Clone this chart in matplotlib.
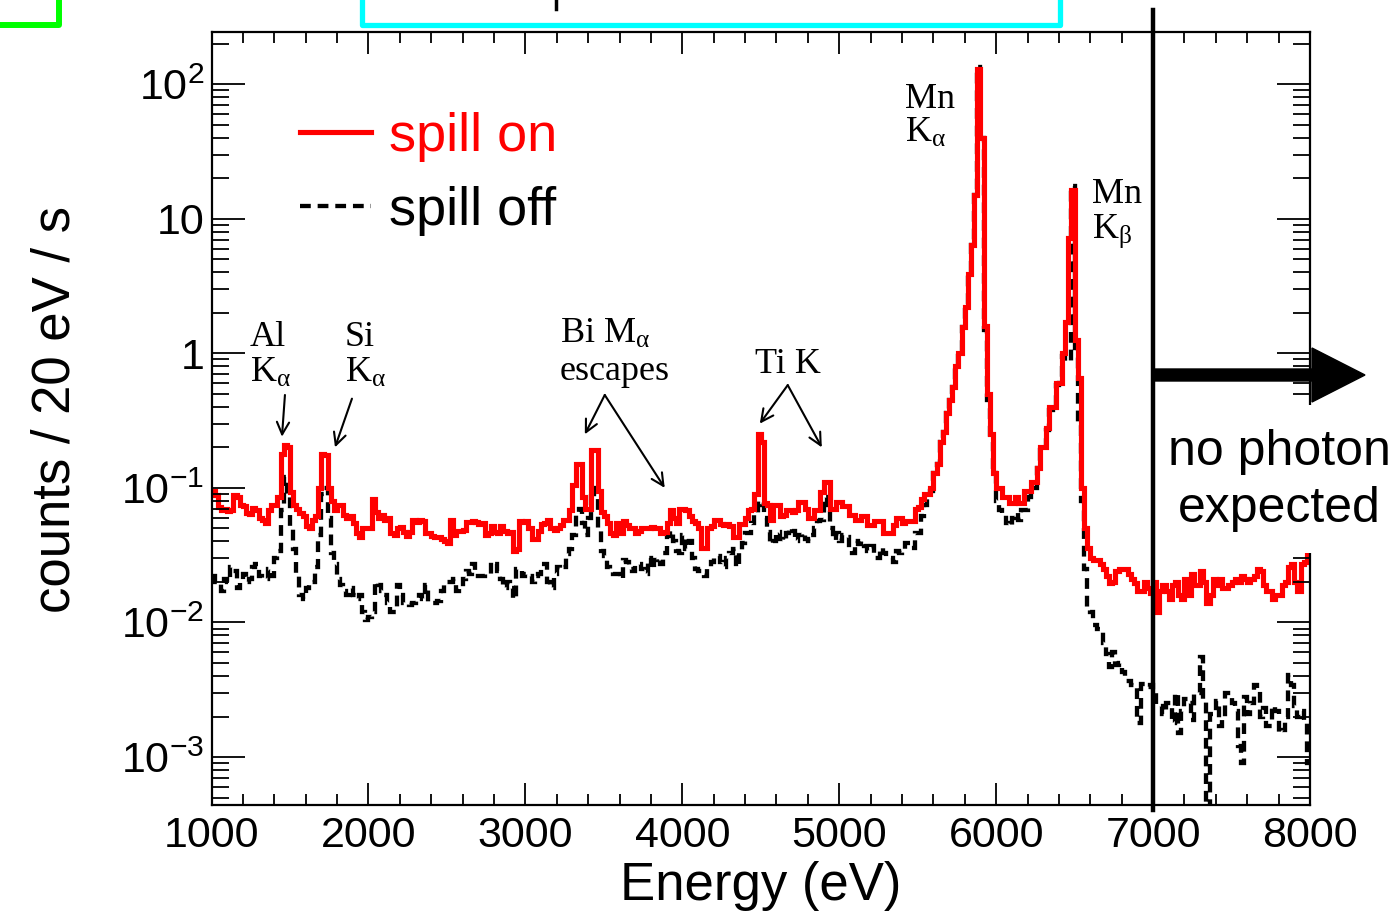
import numpy as np
import matplotlib
matplotlib.use('Agg')
import matplotlib.pyplot as plt
from matplotlib.lines import Line2D
from matplotlib.patches import FancyArrow, Rectangle

plt.rcParams['font.family'] = ['Liberation Sans', 'DejaVu Sans']
plt.rcParams['mathtext.fontset'] = 'custom'
plt.rcParams['mathtext.rm'] = 'Liberation Sans'
plt.rcParams['mathtext.it'] = 'Liberation Sans:italic'
plt.rcParams['mathtext.default'] = 'regular'

# histogram binning (eV)
e_min, e_max, bin_w = 1000, 8000, 20

# counts / 20 eV / s, one row = 500 eV
spill_on = [
    0.095, 0.088, 0.072, 0.068, 0.070, 0.067, 0.069, 0.088, 0.085, 0.075, 0.073, 0.065, 0.064, 0.071, 0.068, 0.060, 0.058, 0.055, 0.068, 0.074, 0.075, 0.085, 0.18, 0.21, 0.20,
    0.093, 0.075, 0.070, 0.065, 0.062, 0.052, 0.050, 0.058, 0.062, 0.10, 0.18, 0.175, 0.10, 0.080, 0.068, 0.075, 0.074, 0.063, 0.060, 0.062, 0.055, 0.046, 0.043, 0.050, 0.050,
    0.050, 0.083, 0.066, 0.060, 0.063, 0.058, 0.060, 0.046, 0.045, 0.050, 0.051, 0.047, 0.044, 0.047, 0.058, 0.056, 0.058, 0.057, 0.046, 0.046, 0.044, 0.043, 0.043, 0.042, 0.040,
    0.039, 0.058, 0.045, 0.048, 0.048, 0.049, 0.056, 0.056, 0.057, 0.056, 0.054, 0.055, 0.045, 0.046, 0.052, 0.047, 0.046, 0.052, 0.048, 0.046, 0.047, 0.034, 0.035, 0.057, 0.056,
    0.057, 0.050, 0.042, 0.042, 0.048, 0.054, 0.055, 0.058, 0.050, 0.049, 0.050, 0.053, 0.058, 0.058, 0.068, 0.105, 0.15, 0.15, 0.085, 0.070, 0.070, 0.19, 0.19, 0.095, 0.066,
    0.062, 0.055, 0.046, 0.045, 0.055, 0.046, 0.057, 0.053, 0.050, 0.050, 0.046, 0.048, 0.050, 0.050, 0.050, 0.051, 0.050, 0.050, 0.046, 0.047, 0.055, 0.068, 0.060, 0.055, 0.070,
    0.070, 0.068, 0.062, 0.057, 0.055, 0.050, 0.036, 0.036, 0.050, 0.052, 0.058, 0.058, 0.054, 0.053, 0.054, 0.052, 0.043, 0.043, 0.054, 0.054, 0.060, 0.068, 0.070, 0.090, 0.25,
    0.22, 0.077, 0.075, 0.058, 0.075, 0.075, 0.062, 0.063, 0.068, 0.068, 0.066, 0.068, 0.078, 0.078, 0.070, 0.060, 0.060, 0.068, 0.068, 0.093, 0.11, 0.11, 0.070, 0.070, 0.078,
    0.078, 0.073, 0.073, 0.063, 0.063, 0.058, 0.058, 0.062, 0.062, 0.053, 0.053, 0.057, 0.057, 0.057, 0.046, 0.046, 0.046, 0.053, 0.060, 0.060, 0.055, 0.057, 0.057, 0.057, 0.070,
    0.072, 0.083, 0.090, 0.090, 0.10, 0.13, 0.15, 0.22, 0.26, 0.36, 0.45, 0.56, 0.80, 1.0, 1.56, 2.2, 3.9, 6.4, 15.0, 130.0, 40.0, 1.6, 0.50, 0.25, 0.13,
    0.10, 0.10, 0.085, 0.085, 0.077, 0.077, 0.085, 0.077, 0.077, 0.095, 0.095, 0.11, 0.11, 0.14, 0.20, 0.20, 0.28, 0.40, 0.40, 0.60, 0.60, 1.0, 1.7, 7.2, 16.3,
    1.25, 0.65, 0.10, 0.050, 0.036, 0.030, 0.029, 0.029, 0.027, 0.025, 0.022, 0.0195, 0.020, 0.024, 0.025, 0.025, 0.025, 0.023, 0.021, 0.0195, 0.017, 0.017, 0.020, 0.018, 0.0165,
    0.020, 0.012, 0.017, 0.019, 0.017, 0.015, 0.019, 0.020, 0.016, 0.015, 0.021, 0.016, 0.023, 0.019, 0.019, 0.024, 0.020, 0.014, 0.016, 0.021, 0.019, 0.021, 0.018, 0.018, 0.019,
    0.020, 0.021, 0.020, 0.022, 0.021, 0.020, 0.021, 0.022, 0.025, 0.024, 0.019, 0.017, 0.017, 0.015, 0.016, 0.016, 0.019, 0.020, 0.026, 0.027, 0.020, 0.017, 0.027, 0.028, 0.035,
]

spill_off = [
    0.022, 0.020, 0.020, 0.017, 0.021, 0.020, 0.026, 0.024, 0.018, 0.020, 0.023, 0.020, 0.021, 0.026, 0.027, 0.022, 0.021, 0.021, 0.025, 0.022, 0.030, 0.034, 0.068, 0.12, 0.085,
    0.050, 0.035, 0.022, 0.016, 0.015, 0.018, 0.019, 0.020, 0.026, 0.045, 0.090, 0.10, 0.060, 0.033, 0.027, 0.021, 0.019, 0.017, 0.016, 0.018, 0.016, 0.015, 0.016, 0.012, 0.0105,
    0.011, 0.012, 0.020, 0.019, 0.017, 0.016, 0.014, 0.012, 0.012, 0.019, 0.016, 0.014, 0.014, 0.0135, 0.014, 0.0145, 0.016, 0.015, 0.019, 0.014, 0.014, 0.014, 0.0145, 0.017, 0.019,
    0.020, 0.020, 0.021, 0.017, 0.018, 0.021, 0.024, 0.023, 0.027, 0.022, 0.022, 0.022, 0.023, 0.023, 0.028, 0.027, 0.024, 0.021, 0.018, 0.020, 0.018, 0.015, 0.025, 0.024, 0.022,
    0.023, 0.022, 0.020, 0.022, 0.023, 0.027, 0.027, 0.020, 0.018, 0.023, 0.026, 0.025, 0.026, 0.032, 0.035, 0.045, 0.065, 0.070, 0.055, 0.045, 0.060, 0.10, 0.085, 0.050, 0.034,
    0.031, 0.026, 0.025, 0.023, 0.023, 0.021, 0.029, 0.028, 0.025, 0.024, 0.027, 0.027, 0.025, 0.023, 0.030, 0.025, 0.029, 0.030, 0.027, 0.033, 0.044, 0.048, 0.040, 0.034, 0.033,
    0.045, 0.035, 0.040, 0.030, 0.025, 0.024, 0.024, 0.022, 0.025, 0.028, 0.030, 0.031, 0.028, 0.026, 0.030, 0.033, 0.035, 0.026, 0.033, 0.039, 0.046, 0.046, 0.055, 0.065, 0.080,
    0.075, 0.060, 0.047, 0.038, 0.040, 0.047, 0.042, 0.040, 0.046, 0.050, 0.048, 0.040, 0.045, 0.046, 0.042, 0.040, 0.045, 0.050, 0.057, 0.058, 0.085, 0.075, 0.050, 0.041, 0.046,
    0.040, 0.045, 0.043, 0.036, 0.033, 0.040, 0.038, 0.040, 0.037, 0.034, 0.037, 0.030, 0.030, 0.036, 0.033, 0.030, 0.030, 0.028, 0.034, 0.033, 0.034, 0.039, 0.039, 0.036, 0.046,
    0.046, 0.062, 0.074, 0.085, 0.095, 0.13, 0.15, 0.22, 0.26, 0.36, 0.45, 0.56, 0.80, 1.0, 1.56, 2.2, 3.9, 6.4, 15.0, 135.0, 40.0, 1.5, 0.45, 0.22, 0.13,
    0.080, 0.068, 0.065, 0.055, 0.052, 0.060, 0.065, 0.058, 0.068, 0.068, 0.085, 0.10, 0.10, 0.14, 0.19, 0.20, 0.27, 0.38, 0.40, 0.58, 0.60, 0.95, 0.88, 0.88, 17.5,
    1.1, 0.30, 0.080, 0.025, 0.0127, 0.012, 0.0095, 0.009, 0.0088, 0.007, 0.0058, 0.0047, 0.006, 0.0048, 0.005, 0.0043, 0.0037, 0.0037, 0.0034, 0.0033, 0.0018, 0.0035, 0.0035, 0.0033, 0.0034,
    0.003, 0.0024, 0.0024, 0.0021, 0.0025, 0.0025, 0.0018, 0.003, 0.0015, 0.0022, 0.0027, 0.0025, 0.0019, 0.003, 0.003, 0.0055, 0.0026, 0.0, 0.0021, 0.0022, 0.0026, 0.0017, 0.002, 0.003, 0.003,
    0.0025, 0.0022, 0.0012, 0.0009, 0.0028, 0.0021, 0.0025, 0.0034, 0.0032, 0.002, 0.0023, 0.0017, 0.0017, 0.0024, 0.0022, 0.0015, 0.0016, 0.002, 0.0041, 0.0034, 0.0024, 0.002, 0.0022, 0.0019, 0.0009,
]

x_ticks = [1000, 2000, 3000, 4000, 5000, 6000, 7000, 8000]
y_ticks = [1e-3, 1e-2, 1e-1, 1, 10, 100]
y_tick_labels = ['$10^{-3}$', '$10^{-2}$', '$10^{-1}$', '1', '10', '$10^{2}$']
cutoff_energy = 7000

edges = np.arange(e_min, e_max + bin_w, bin_w)
off_dash = (0, (2.5, 1.6))

fig = plt.figure(figsize=(14, 9.15), dpi=100)
W, H = 1400, 915
ax = fig.add_axes([211.5 / W, 1 - 805 / H, 1098.5 / W, 773 / H])

# empty bins drop to the bottom of the log axis
ax.stairs(np.maximum(spill_off, 1e-6), edges, baseline=None, color='black', lw=3.1, linestyle=off_dash)
ax.stairs(spill_on, edges, baseline=None, color='red', lw=3.7)

ax.set_yscale('log')
ax.set_xlim(e_min, e_max)
ax.set_ylim(4.4e-4, 244)
ax.set_xticks(x_ticks)
ax.set_xticks(np.arange(e_min, e_max + 1, 200), minor=True)
ax.set_yticks(y_ticks)
ax.set_yticklabels(y_tick_labels)
ax.yaxis.set_minor_locator(matplotlib.ticker.LogLocator(base=10, subs=np.arange(2, 10)))
ax.yaxis.set_minor_formatter(matplotlib.ticker.NullFormatter())

ax.tick_params(which='both', direction='in', top=True, right=True, width=1.3, colors='black')
ax.tick_params(axis='y', which='major', length=24, labelsize=31, pad=5)
ax.tick_params(axis='y', which='minor', length=12)
ax.tick_params(axis='x', which='major', length=16, labelsize=31, pad=8)
ax.tick_params(axis='x', which='minor', length=8)
for s in ax.spines.values():
    s.set_linewidth(1.6)

ax.set_xlabel('Energy (eV)', fontsize=38, va='top')
ax.xaxis.set_label_coords(0.5, -0.073)
ax.set_ylabel('counts / 20 eV / s', fontsize=38)
ax.yaxis.set_label_coords(-0.119, 0.511)

# legend
handles = [Line2D([], [], color='red', lw=3.7),
           Line2D([], [], color='black', lw=3.1, linestyle=off_dash)]
ax.legend(handles, ['spill on', 'spill off'], loc='upper left', bbox_to_anchor=(0.081, 0.897),
          frameon=False, fontsize=39, handlelength=1.3, handletextpad=0.33,
          labelspacing=0.45, borderpad=0, borderaxespad=0, labelcolor=['red', 'black'])

# line annotations
serif = dict(family='Liberation Serif', fontsize=26, math_fontfamily='stix', color='black')
labels = [
    (1245, 1.13, 'Al'), (1245, 0.61, r'K$_{\alpha}$'),
    (1850, 1.13, 'Si'), (1850, 0.61, r'K$_{\alpha}$'),
    (3220, 1.19, r'Bi M$_{\alpha}$'), (3220, 0.63, 'escapes'),
    (4462, 0.71, 'Ti K'),
    (5417, 66.0, 'Mn'), (5417, 37.0, r'K$_{\alpha}$'),
    (6614, 13.0, 'Mn'), (6614, 7.2, r'K$_{\beta}$'),
]
for x, y, t in labels:
    ax.text(x, y, t, ha='left', va='baseline', **serif)

arrows = [
    ((1468, 0.49), (1449, 0.24)),
    ((1895, 0.46), (1787, 0.20)),
    ((3506, 0.49), (3379, 0.25)),
    ((3506, 0.49), (3888, 0.10)),
    ((4672, 0.58), (4494, 0.30)),
    ((4672, 0.58), (4889, 0.20)),
]
for tail, head in arrows:
    ax.annotate('', xy=head, xytext=tail,
                arrowprops=dict(arrowstyle='->', lw=1.5, color='black',
                                shrinkA=0, shrinkB=0, mutation_scale=22))

# cut-off line and "no photon expected"
ax.axvline(cutoff_energy, ymin=-0.007, ymax=1.028, color='black', lw=3.2, clip_on=False)
fig.add_artist(Rectangle((1162 / W, 1 - 553 / H), 238 / W, 148 / H, facecolor='white',
                         edgecolor='none', transform=fig.transFigure, zorder=2))
fig.add_artist(FancyArrow(1152 / W, 1 - 375 / H, 213 / W, 0, width=12 / H,
                          head_width=54 / H, head_length=53 / W,
                          length_includes_head=True, color='black',
                          transform=fig.transFigure, zorder=3))
fig.text(1279 / W, 1 - 465 / H, 'no photon', ha='center', va='baseline', fontsize=36, zorder=4)
fig.text(1279 / W, 1 - 522 / H, 'expected', ha='center', va='baseline', fontsize=36, zorder=4)

# frames of neighbouring panels, cut at the top edge
fig.add_artist(Line2D([0, 59 / W, 59 / W], [1 - 25 / H, 1 - 25 / H, 1.01],
                      color='#00ff00', lw=4.3, transform=fig.transFigure))
fig.add_artist(Line2D([362 / W, 362 / W, 1060 / W, 1060 / W], [1.01, 1 - 25 / H, 1 - 25 / H, 1.01],
                      color='#00ffff', lw=3.8, transform=fig.transFigure))
fig.add_artist(Line2D([556 / W, 556 / W], [1 - 9 / H, 1.01],
                      color='black', lw=2.5, transform=fig.transFigure))

fig.savefig('out.png', dpi=100)
